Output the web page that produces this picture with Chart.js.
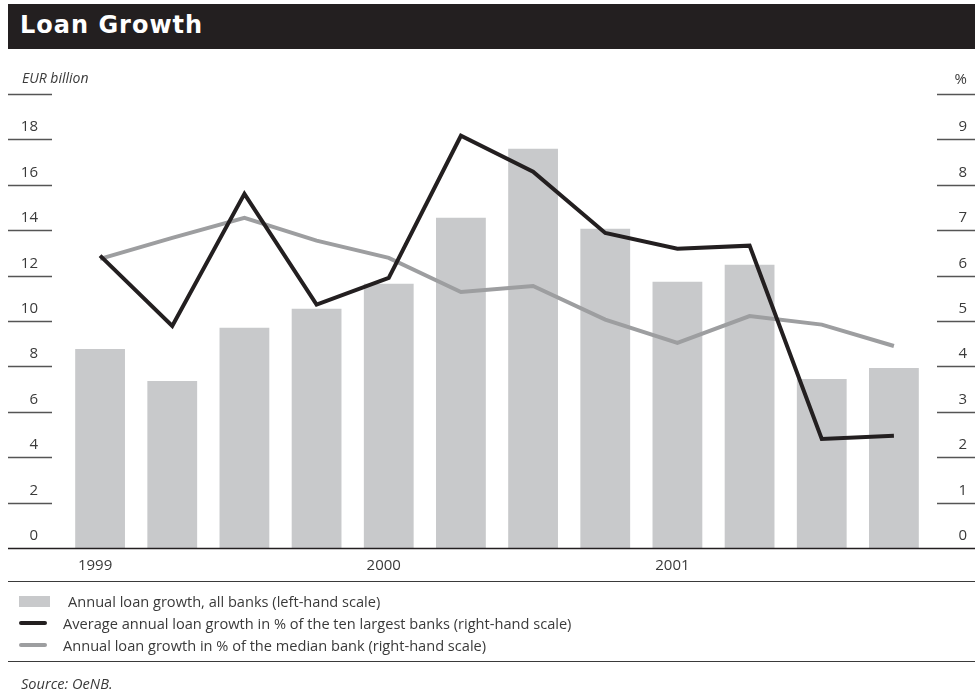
<!DOCTYPE html>
<html>
<head>
<meta charset="utf-8">
<title>Loan Growth</title>
<script src="https://cdn.jsdelivr.net/npm/chart.js@4.4.0/dist/chart.umd.js"></script>
<style>
  html, body { margin: 0; padding: 0; background: #fff; }
  #page { position: relative; width: 975px; height: 693px; overflow: hidden; font-family: "Open Sans", Lato, sans-serif; color: #3a3a3a; }
  #myChart { position: absolute; left: 0; top: 0; }
  .title-bar { position: absolute; left: 8px; top: 4px; width: 967px; height: 45px; background: #231f20; }
  .title-bar span { position: absolute; left: 12px; top: 7px; color: #fff; font: bold 24px "DejaVu Sans", sans-serif; letter-spacing: 1px; }
  .rule { position: absolute; left: 8px; width: 967px; height: 0; border-top: 1.5px solid #3a3a3a; }
  .legend-row { position: absolute; left: 0; font-size: 14.6px; line-height: 18px; white-space: nowrap; }
  .swatch { position: absolute; left: 19px; }
  .source { position: absolute; left: 21px; top: 673px; font-size: 14.6px; font-style: italic; }
</style>
</head>
<body>
<div id="page">
  <canvas id="myChart" width="975" height="693"></canvas>
  <div class="title-bar"><span>Loan Growth</span></div>
  <div class="rule" style="top:581px"></div>
  <div class="legend-row" style="top:592px"><div class="swatch" style="top:4px;width:31px;height:11px;background:#c8c9cb"></div><span style="position:absolute;left:68px">Annual loan growth, all banks (left-hand scale)</span></div>
  <div class="legend-row" style="top:614px"><div class="swatch" style="top:7px;width:28px;height:4px;border-radius:2px;background:#231f20"></div><span style="position:absolute;left:63px">Average annual loan growth in % of the ten largest banks (right-hand scale)</span></div>
  <div class="legend-row" style="top:636px"><div class="swatch" style="top:7px;width:28px;height:4px;border-radius:2px;background:#9d9ea0"></div><span style="position:absolute;left:63px">Annual loan growth in % of the median bank (right-hand scale)</span></div>
  <div class="rule" style="top:661px"></div>
  <div class="source">Source: OeNB.</div>
</div>
<script>
// Quarterly observations 1999 Q1 - 2001 Q4
const quarters = ['1999', '', '', '', '2000', '', '', '', '2001', '', '', ''];
const allBanksEurBn = [8.77, 7.36, 9.70, 10.54, 11.64, 14.55, 17.59, 14.06, 11.73, 12.48, 7.45, 7.93];
const tenLargestPct = [6.44, 4.89, 7.80, 5.36, 5.95, 9.08, 8.29, 6.94, 6.59, 6.66, 2.40, 2.47];
const medianBankPct = [6.37, 6.83, 7.27, 6.77, 6.39, 5.64, 5.77, 5.03, 4.52, 5.11, 4.92, 4.45];

// Axis ticks: the top gridline of each side carries the unit instead of a number
const leftTicks = [0, 2, 4, 6, 8, 10, 12, 14, 16, 18, 20];
const leftTickLabels = ['0', '2', '4', '6', '8', '10', '12', '14', '16', '18', 'EUR billion'];
const rightTicks = [0, 1, 2, 3, 4, 5, 6, 7, 8, 9, 10];
const rightTickLabels = ['0', '1', '2', '3', '4', '5', '6', '7', '8', '9', '%'];

const INK = '#3a3a3a';
const FONT = '15px "Open Sans", Lato, sans-serif';

// Short tick rules at both page edges, numbers sitting above them
const edgeAxes = {
    id: 'edgeAxes',
    afterDraw(chart) {
        const { ctx, scales } = chart;
        const yL = scales.y, yR = scales.y1, x = scales.x;
        ctx.save();
        ctx.strokeStyle = '#555';
        ctx.lineWidth = 1.5;
        ctx.fillStyle = INK;
        ctx.textBaseline = 'middle';

        leftTicks.forEach((v, i) => {
            const py = Math.round(yL.getPixelForValue(v)) + 0.5;
            if (v > 0) {
                ctx.beginPath(); ctx.moveTo(8, py); ctx.lineTo(52, py); ctx.stroke();
            }
            const label = leftTickLabels[i];
            if (i === leftTicks.length - 1) {
                ctx.font = 'italic 14px "Open Sans", Lato, sans-serif';
                ctx.textAlign = 'left';
                ctx.fillText(label, 22, py - 15);
            } else {
                ctx.font = FONT;
                ctx.textAlign = 'right';
                ctx.fillText(label, 38, py - 13);
            }
        });

        ctx.font = FONT;
        ctx.textAlign = 'right';
        rightTicks.forEach((v, i) => {
            const py = Math.round(yR.getPixelForValue(v)) + 0.5;
            if (v > 0) {
                ctx.beginPath(); ctx.moveTo(937, py); ctx.lineTo(975, py); ctx.stroke();
            }
            ctx.fillText(rightTickLabels[i], 967, py - (i === rightTicks.length - 1 ? 15 : 13));
        });

        // zero line across the whole width
        const base = Math.round(yL.getPixelForValue(0)) + 0.5;
        ctx.strokeStyle = '#231f20';
        ctx.beginPath(); ctx.moveTo(8, base); ctx.lineTo(975, base); ctx.stroke();

        // year labels under the first quarter
        ctx.textAlign = 'center';
        quarters.forEach((q, i) => {
            if (q) ctx.fillText(q, x.getPixelForValue(i) - 5, base + 17);
        });
        ctx.restore();
    }
};

new Chart(document.getElementById('myChart'), {
    data: {
        labels: quarters,
        datasets: [
            {
                type: 'line',
                label: 'Average annual loan growth in % of the ten largest banks (right-hand scale)',
                data: tenLargestPct,
                yAxisID: 'y1',
                borderColor: '#231f20',
                borderWidth: 4,
                borderJoinStyle: 'miter',
                pointRadius: 0,
                tension: 0,
                order: 1
            },
            {
                type: 'line',
                label: 'Annual loan growth in % of the median bank (right-hand scale)',
                data: medianBankPct,
                yAxisID: 'y1',
                borderColor: '#9d9ea0',
                borderWidth: 4,
                borderJoinStyle: 'miter',
                pointRadius: 0,
                tension: 0,
                order: 2
            },
            {
                type: 'bar',
                label: 'Annual loan growth, all banks (left-hand scale)',
                data: allBanksEurBn,
                yAxisID: 'y',
                backgroundColor: '#c8c9cb',
                borderWidth: 0,
                categoryPercentage: 1,
                barPercentage: 0.69,
                order: 3
            }
        ]
    },
    options: {
        responsive: false,
        animation: false,
        layout: { padding: { left: 64, right: 45, top: 94, bottom: 145 } },
        plugins: { legend: { display: false }, tooltip: { enabled: false } },
        scales: {
            x: { display: false, offset: true },
            y: { display: false, position: 'left', min: 0, max: 20 },
            y1: { display: false, position: 'right', min: 0, max: 10 }
        }
    },
    plugins: [edgeAxes]
});
</script>
</body>
</html>
